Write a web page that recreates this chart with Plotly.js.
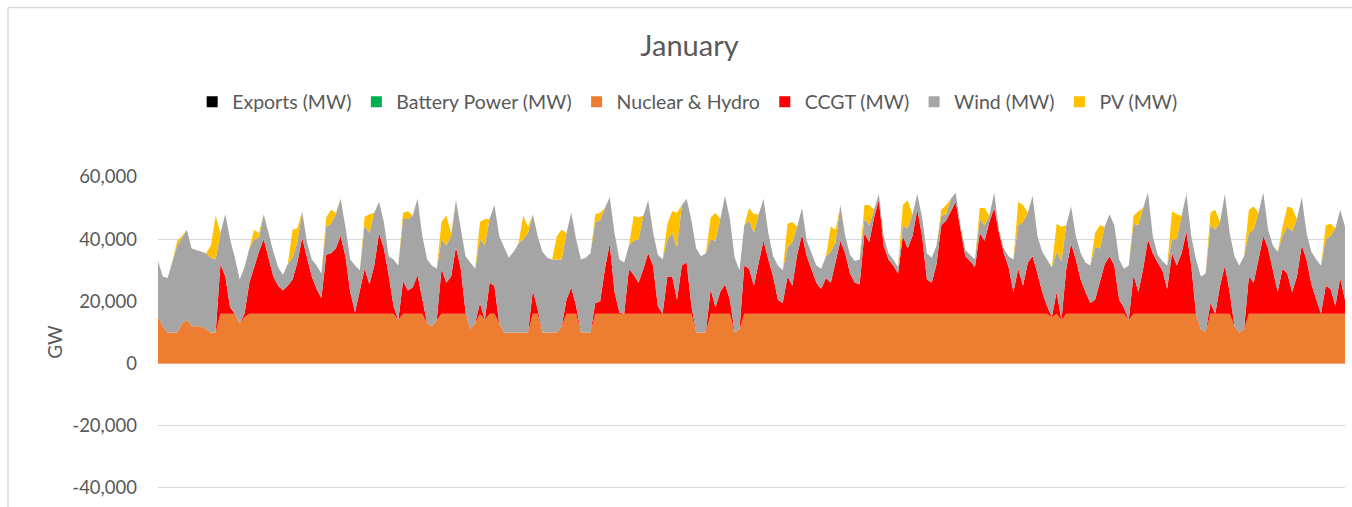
<!DOCTYPE html>
<html>
<head>
<meta charset="utf-8">
<script src="https://cdn.plot.ly/plotly-3.0.1.min.js"></script>
<style>
  html, body { margin: 0; padding: 0; background: #fff; }
  #graph { width: 1352px; height: 507px; }
</style>
</head>
<body>
<div id="graph"></div>
<script>
// January, 3-hourly samples (thousands of MW), one row per day
const nuclear = [
  15,12,10,10,10,13,14,12,
  12,12,11,10,10,16,16,16,
  16,13,15,16,16,16,16,16,
  16,16,16,16,16,16,16,16,
  16,16,16,16,16,16,16,16,
  16,16,16,16,16,16,16,16,
  16,16,14,16,16,16,16,16,
  13,12,14,16,16,16,16,16,
  16,11,13,16,14,16,16,13,
  10,10,10,10,10,10,16,16,
  10,10,10,10,12,16,16,16,
  10,10,10,16,16,16,16,16,
  16,16,16,16,16,16,16,16,
  16,16,16,16,16,16,16,16,
  10,10,10,16,16,16,16,16,
  10,11,16,16,16,16,16,16,
  16,16,16,16,16,16,16,16,
  16,16,16,16,16,16,16,16,
  16,16,16,16,16,16,16,16,
  16,16,16,16,16,16,16,16,
  16,16,16,16,16,16,16,16,
  16,16,16,16,16,16,16,16,
  16,16,16,16,16,16,16,16,
  16,16,15,16,14,16,16,16,
  16,16,16,16,16,16,16,16,
  16,16,14,16,16,16,16,16,
  16,16,16,16,16,16,16,16,
  16,11,10,16,16,16,16,16,
  12,10,11,16,16,16,16,16,
  16,16,16,16,16,16,16,16,
  16,16,16,16,16,16,16,16
];

const ccgt = [
  0,0,0,0,0,0,0,0,
  0,0,0,0,0,16,12,2,
  0,0,1,10,15,20,24,18,
  12,9,7.5,9,11,16.5,24.5,18,
  12,8,5,19,19.5,21,25,18.5,
  7,0.5,8,14.5,9.5,15.5,26,21,
  12.5,2.5,0,10.5,7.5,8.5,12.5,4.5,
  0,0,0,14.5,10,12,21.5,14.5,
  0.5,0,0,3.5,0,10,9,0,
  0,0,0,0,0,0,7.5,1.5,
  0,0,0,0,0,4.5,8.5,2.5,
  0,0,0,3.5,4,14.5,22.5,7,
  0.5,0,14.5,12.5,10,14.5,19.5,15.5,
  2.5,0,12,12,4.5,15.5,16.5,2.5,
  0,0,0,8,2,7,9.5,4.5,
  0,0,15.5,14.5,9,16.5,23.5,17.5,
  12,4.5,3.5,12,9,19,25.5,18.5,
  14.5,10,8,11.5,10,16.5,23.5,19.5,
  13,10,9.5,26,23,31,36.5,22,
  17.5,15.5,13,25,21,25,33.5,25,
  11,10,16,28.5,30,33,36,27,
  18.5,17,15,26,23.5,29.5,34,26,
  19.5,15,7,14.5,9,16.5,18.5,13,
  7,2.5,0,7,0,14.5,22.5,17.5,
  11,7,3.5,4.5,10,16,18.5,15.5,
  4.5,2,0,12.5,7,14.5,24,19.5,
  16.5,14,8,19.5,15.5,19.5,26.5,15.5,
  0,0,0,3.5,0,9,15.5,7,
  0,0,0,12,10,17.5,25,21,
  14.5,7,14.5,13,7,12,22,17.5,
  9.5,4.5,0,9,8,2.5,11.5,4.5
];

const wind = [
  18,16,17.5,23,28,27.5,29,25,
  24.5,24,24.5,24,23.5,10,20,22,
  18,14,15,11,9,4.5,8,8,
  8,6,5,7,7,6.5,8.5,5,
  5.5,7.5,8,9,9.5,11,12,9.5,
  10.5,15,6,14,16.5,17,10,8.5,
  6,15,17.5,20,23,23,24.5,20.5,
  20.5,19.5,16.5,9.5,12,13,15,13,
  18,21.5,17.5,20.5,24,20.5,26,28,
  27.5,24,26,28.5,30,32,24.5,23.5,
  26,24,23.5,23.5,21.5,21.5,24,21.5,
  23.5,24,25.5,26,26,19.5,15,19,
  17,16.5,7.5,11,14,17,17,11,
  16.5,17.5,12,14,17,19.5,20.5,27.5,
  27,24.5,25.5,16,21.5,23.5,28.5,26,
  24,19,13,15.5,17,15.5,13.5,8.5,
  6.5,11,10.5,9.5,14,9,8.5,5,
  5,5.5,6.5,7,10,6.5,11.5,5.5,
  6,7,8,4.5,5.5,2.5,2,3,
  2,2,2,3.5,6.5,7,5,6,
  8.5,8,6,3,2,4,3,1,
  2,2,2.5,4.5,5,2,5,1,
  1.5,3.5,10.5,14,20.5,16,19.5,12,
  13,15,16,13,19,14,12,7.5,
  8.5,9.5,12,17,11,12,13.5,13,
  13,12.5,17.5,16.5,21.5,19.5,15,5.5,
  2.5,3,7.5,4.5,8.5,12,12,9.5,
  17.5,17,19,25,27,20.5,23,19,
  22.5,21.5,23.5,14,17,15,14,6,
  7.5,13,10.5,15,19.5,18.5,15.5,8.5,
  10.5,13,15.5,15,17,25,22,23.5
];

const pv = [
  0,0,0,0,1.5,0.5,0,0,
  0,0,0,4,14,0,0,0,
  0,0,0,0,3,1.5,0,0,
  0,0,0,0,9,4.5,0,0,
  0,0,0,3,4.5,0.5,0,0,
  0,0,0,2.7,6,0,0,0,
  0,0,0,2,2.5,0,0,0,
  0,0,0,5.5,9.5,1,0,0,
  0,0,0,5.5,8.5,0,0,0,
  0,0,0,0,7.5,2,0,0,
  0,0,0,7.5,9.5,0,0,0,
  0,0,0,2.5,2.5,0,0,0,
  0,0,0,8,7,0,0,0,
  0,0,5,7,11,0,0,0,
  0,0,0,7,9,0,0,0,
  0,0,0,4,6,0,0,0,
  0,0,0,7.5,6.5,0,0,0,
  0,0,0,0,8,4,0,0,
  0,0,0,4.5,6.5,0,0,0,
  0,0,0,6.5,9,0,0,0,
  0,0,0,2,3,0,0,0,
  0,0,0,3.5,5.5,0,0,0,
  0,0,0,7.5,5.5,0,0,0,
  0,0,0,9,11,0,0,0,
  0,0,0,4.5,7.5,0,0,0,
  0,0,0,2.5,4.5,0,0,0,
  0,0,0,9,8,0,0,0,
  0,0,0,4,6.5,0,0,0,
  0,0,0,7.5,7.5,0,0,0,
  0,0,3,6.5,7.5,0,0,0,
  0,0,0,4.5,4,0,0,0
];

const legendNames = ['Exports (MW)', 'Battery Power (MW)', 'Nuclear & Hydro', 'CCGT (MW)', 'Wind (MW)', 'PV (MW)'];
const legendColors = ['#000000', '#00B050', '#ED7D31', '#FF0000', '#A5A5A5', '#FFC000'];

const yTicks = [-40000, -20000, 0, 20000, 40000, 60000];
const yLabels = ['-40,000', '-20,000', '0', '20,000', '40,000', '60,000'];

const hours = nuclear.map((_, i) => i * 3);
const toMW = arr => arr.map(v => v * 1000);

const stacked = [
  { values: nuclear, color: '#ED7D31', name: 'Nuclear & Hydro' },
  { values: ccgt, color: '#FF0000', name: 'CCGT (MW)' },
  { values: wind, color: '#A5A5A5', name: 'Wind (MW)' },
  { values: pv, color: '#FFC000', name: 'PV (MW)' }
];

const traces = stacked.map(s => ({
  x: hours,
  y: toMW(s.values),
  name: s.name,
  type: 'scatter',
  mode: 'lines',
  stackgroup: 'gen',
  line: { width: 0, color: s.color },
  fillcolor: s.color,
  showlegend: false,
  hoverinfo: 'skip'
}));

// legend entries with small square keys
legendNames.forEach((name, i) => {
  traces.push({
    x: [null],
    y: [null],
    name: name,
    type: 'scatter',
    mode: 'markers',
    marker: { symbol: 'square', size: 11, color: legendColors[i] },
    showlegend: true
  });
});

const font = 'Lato, "Noto Sans", sans-serif';

const layout = {
  width: 1352,
  height: 507,
  margin: { l: 158, r: 7, t: 177, b: 0 },
  paper_bgcolor: '#ffffff',
  plot_bgcolor: '#ffffff',
  font: { family: font, color: '#595959' },
  title: {
    text: 'January',
    font: { family: font, size: 29, color: '#595959' },
    xref: 'container', x: 0.51, xanchor: 'center',
    yref: 'container', y: 0.909, yanchor: 'middle'
  },
  showlegend: true,
  legend: {
    orientation: 'h',
    x: 0.4458, xanchor: 'center',
    y: 1.227, yanchor: 'middle',
    traceorder: 'normal',
    font: { family: font, size: 19.5, color: '#595959' },
    itemwidth: 30
  },
  xaxis: {
    range: [0, hours[hours.length - 1]],
    showgrid: false,
    zeroline: false,
    showticklabels: false,
    ticks: '',
    showline: false,
    fixedrange: true
  },
  yaxis: {
    range: [-46130, 60000],
    tickvals: yTicks,
    ticktext: yLabels,
    tickfont: { family: font, size: 18.5, color: '#595959' },
    showgrid: true,
    gridcolor: '#D9D9D9',
    gridwidth: 1,
    zeroline: true,
    zerolinecolor: '#D9D9D9',
    ticks: '',
    ticklabelstandoff: 20,
    title: {
      text: 'GW',
      font: { family: font, size: 19, color: '#595959' },
      standoff: 4
    },
    fixedrange: true
  },
  shapes: [
    { type: 'line', xref: 'paper', yref: 'paper', x0: -0.1264, x1: 1.01, y0: 1.514, y1: 1.514,
      line: { color: '#D9D9D9', width: 1.5 } },
    { type: 'line', xref: 'paper', yref: 'paper', x0: -0.1264, x1: -0.1264, y0: -0.01, y1: 1.514,
      line: { color: '#D9D9D9', width: 1.5 } }
  ]
};

Plotly.newPlot('graph', traces, layout, { displayModeBar: false, staticPlot: true });
</script>
</body>
</html>
